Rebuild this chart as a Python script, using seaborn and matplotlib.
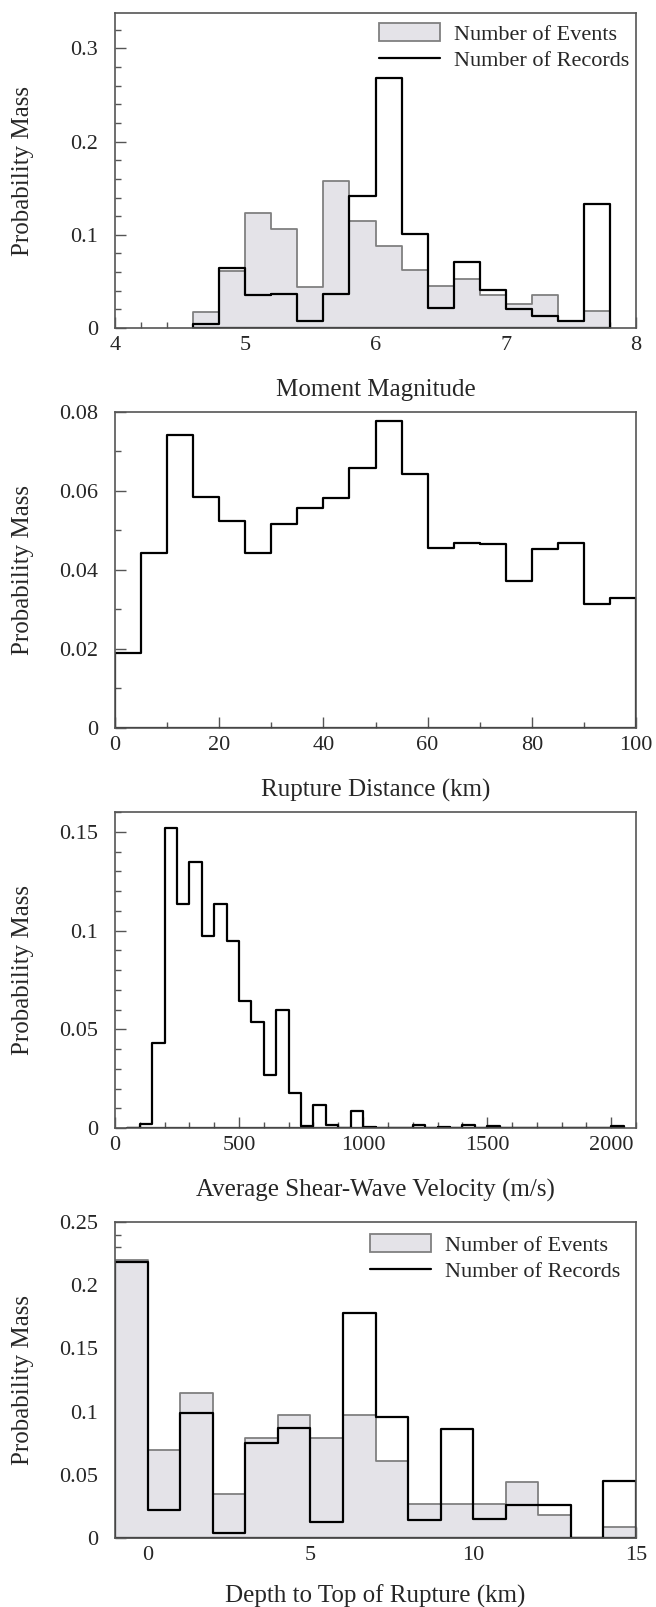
import numpy as np
import pandas as pd
import matplotlib
matplotlib.use("Agg")
import matplotlib.pyplot as plt
import seaborn as sns
from matplotlib.patches import Patch
from matplotlib.lines import Line2D
from matplotlib.ticker import MultipleLocator, FuncFormatter

# ---------------- data ----------------
mag_edges = [4.6, 4.8, 5.0, 5.2, 5.4, 5.6, 5.8, 6.0, 6.2, 6.4, 6.6, 6.8, 7.0, 7.2, 7.4, 7.6, 7.8]
mag_events = [0.017, 0.061, 0.123, 0.106, 0.044, 0.158, 0.115, 0.088, 0.062, 0.045,
              0.053, 0.035, 0.026, 0.035, 0.008, 0.018]
mag_records = [0.004, 0.064, 0.035, 0.037, 0.007, 0.036, 0.142, 0.268, 0.101, 0.021,
               0.071, 0.041, 0.020, 0.013, 0.007, 0.133]

dist_edges = [0, 5, 10, 15, 20, 25, 30, 35, 40, 45, 50, 55, 60, 65, 70, 75, 80, 85, 90, 95, 100]
dist_records = [0.0191, 0.0444, 0.0743, 0.0586, 0.0524, 0.0444, 0.0516, 0.0556, 0.0582, 0.0657,
                0.0777, 0.0644, 0.0456, 0.0469, 0.0466, 0.0373, 0.0453, 0.0469, 0.0315, 0.0328]

vs_edges = [50, 100, 150, 200, 250, 300, 350, 400, 450, 500, 550, 600, 650, 700, 750, 800,
            850, 900, 950, 1000, 1050, 1100, 1150, 1200, 1250, 1300, 1350, 1400, 1450, 1500,
            1550, 1600, 1650, 1700, 1750, 1800, 1850, 1900, 1950, 2000, 2050]
vs_records = [0.0, 0.0022, 0.043, 0.1517, 0.1134, 0.1345, 0.097, 0.1132, 0.0945, 0.0641,
              0.0535, 0.027, 0.0599, 0.0176, 0.0008, 0.0116, 0.0013, 0.0, 0.0088, 0.0007,
              0.0, 0.0, 0.0, 0.0015, 0.0, 0.0005, 0.0, 0.0015, 0.0, 0.0012,
              0.0, 0.0, 0.0, 0.0, 0.0, 0.0, 0.0, 0.0, 0.0, 0.0012]

ztor_edges = [-1, 0, 1, 2, 3, 4, 5, 6, 7, 8, 9, 10, 11, 12, 13, 14, 15]
ztor_events = [0.220, 0.070, 0.1145, 0.035, 0.079, 0.097, 0.079, 0.097, 0.061, 0.027,
               0.027, 0.027, 0.044, 0.018, 0.0, 0.009]
ztor_records = [0.218, 0.022, 0.099, 0.004, 0.075, 0.087, 0.013, 0.178, 0.096, 0.014,
                0.086, 0.015, 0.026, 0.026, 0.0, 0.045]

x_labels = ["Moment Magnitude", "Rupture Distance (km)",
            "Average Shear-Wave Velocity (m/s)", "Depth to Top of Rupture (km)"]
y_label = "Probability Mass"
legend_labels = ["Number of Events", "Number of Records"]

# ---------------- style ----------------
sns.set_theme(style="ticks")
plt.rcParams["font.family"] = ["Liberation Serif", "DejaVu Serif"]

EVENT_FACE = "#e4e3e8"
EVENT_EDGE = "#808080"
SPINE = "#555555"

W, H = 656, 1607
fig = plt.figure(figsize=(W / 100, H / 100), dpi=100)

left_px, right_px = 115, 636
panels_px = [(13, 328), (412, 728), (812, 1128), (1222, 1538)]
axes = []
for top, bot in panels_px:
    ax = fig.add_axes([left_px / W, 1 - bot / H, (right_px - left_px) / W, (bot - top) / H])
    axes.append(ax)


def step_hist(ax, edges, values, events=False):
    e = [float(v) for v in edges]
    mids = [(a + b) / 2 for a, b in zip(e[:-1], e[1:])]
    df = pd.DataFrame({"x": mids, "w": [float(v) for v in values]})
    if events:
        sns.histplot(data=df, x="x", weights="w", bins=e, element="step", fill=True,
                     color=EVENT_EDGE, facecolor=EVENT_FACE, edgecolor=EVENT_EDGE,
                     linewidth=1.3, alpha=1, ax=ax, zorder=1)
    else:
        sns.histplot(data=df, x="x", weights="w", bins=e, element="step", fill=True,
                     color="black", facecolor="none", edgecolor="black",
                     linewidth=1.6, alpha=1, ax=ax, zorder=2)


fmt = FuncFormatter(lambda v, p: "%g" % round(v, 6))


def style(ax, xlim, ylim, xmaj, xmin, ymaj, ymin, xlabel, label_off=62):
    ax.set_xlim(*xlim)
    ax.set_ylim(*ylim)
    ax.xaxis.set_major_locator(MultipleLocator(xmaj))
    if xmin:
        ax.xaxis.set_minor_locator(MultipleLocator(xmin))
    ax.yaxis.set_major_locator(MultipleLocator(ymaj))
    ax.yaxis.set_minor_locator(MultipleLocator(ymin))
    ax.xaxis.set_major_formatter(fmt)
    ax.yaxis.set_major_formatter(fmt)
    ax.set_axisbelow(True)
    for s in ax.spines.values():
        s.set_visible(True)
        s.set_color(SPINE)
        s.set_linewidth(1.2)
        s.set_zorder(3)
    ax.tick_params(which="both", direction="in", top=False, right=False,
                   color=SPINE, width=1.0)
    ax.tick_params(which="major", length=8)
    ax.tick_params(which="minor", length=4.5)
    ax.tick_params(axis="y", which="major", labelsize=16, pad=12)
    ax.tick_params(axis="x", which="major", labelsize=16, pad=6)
    ax.set_xlabel(xlabel, fontsize=18)
    ax.set_ylabel(y_label, fontsize=18)
    h_ax = ax.get_position().height * H
    ax.xaxis.set_label_coords(0.5, -label_off / h_ax)
    ax.xaxis.label.set_verticalalignment("center")
    ax.yaxis.set_label_coords((23 - left_px) / (right_px - left_px), 0.5)
    ax.yaxis.label.set_verticalalignment("center")


def add_legend(ax, anchor):
    handles = [Patch(facecolor=EVENT_FACE, edgecolor=EVENT_EDGE, linewidth=1.3),
               Line2D([], [], color="black", linewidth=1.6)]
    ax.legend(handles, legend_labels, loc="upper right", bbox_to_anchor=anchor,
              frameon=False, fontsize=16, handlelength=2.75, handleheight=0.85,
              handletextpad=0.65, labelspacing=0.22, borderaxespad=0.0, borderpad=0.0)


# Panel 1: magnitude
ax = axes[0]
step_hist(ax, mag_edges, mag_events, events=True)
step_hist(ax, mag_edges, mag_records)
style(ax, (4, 8), (0, 0.338), 1, 0.2, 0.1, 0.02, x_labels[0])
add_legend(ax, (0.988, 0.968))

# Panel 2: rupture distance
ax = axes[1]
step_hist(ax, dist_edges, dist_records)
style(ax, (0, 100), (0, 0.08), 20, 10, 0.02, 0.01, x_labels[1])

# Panel 3: Vs30
ax = axes[2]
step_hist(ax, vs_edges, vs_records)
style(ax, (0, 2100), (0, 0.16), 500, 100, 0.05, 0.01, x_labels[2])

# Panel 4: Ztor
ax = axes[3]
step_hist(ax, ztor_edges, ztor_events, events=True)
step_hist(ax, ztor_edges, ztor_records)
style(ax, (-1, 15), (0, 0.25), 5, None, 0.05, 0.01, x_labels[3], label_off=58)
add_legend(ax, (0.97, 0.962))

fig.savefig("out.png", dpi=100)
